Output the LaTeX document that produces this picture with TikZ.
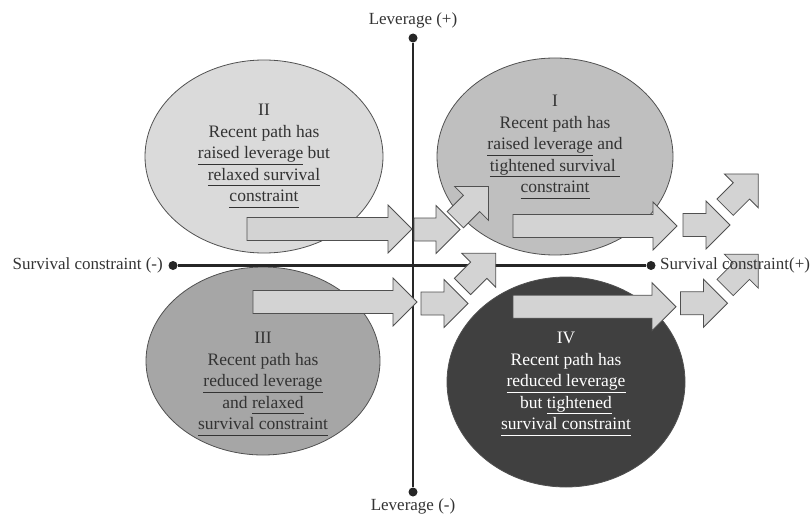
\documentclass[tikz,border=0pt]{standalone}
\usepackage{fontspec}
\setmainfont{Liberation Serif}
\usetikzlibrary{shapes.geometric}
\definecolor{quadone}{HTML}{BFBFBF}
\definecolor{quadtwo}{HTML}{DADADA}
\definecolor{quadthree}{HTML}{A6A6A6}
\definecolor{quadfour}{HTML}{404040}
\definecolor{quadline}{HTML}{505050}
\definecolor{arrowfill}{HTML}{D3D3D3}
\definecolor{arrowline}{HTML}{505050}
\definecolor{axisline}{HTML}{262626}
\definecolor{textgray}{HTML}{333333}
\newcommand{\ulfix}[1]{\underline{#1\vphantom{g}}}
\tikzset{
  quad/.style={ellipse, draw=quadline, line width=0.8pt, inner sep=0pt},
  quadtext/.style={align=center, text=textgray, font=\fontsize{17.5}{21.5}\selectfont},
  axis/.style={draw=axisline, line width=2.2pt},
  axisdot/.style={circle, fill=axisline, inner sep=0pt, minimum size=9pt},
  axislabel/.style={inner sep=0pt, text=textgray, font=\fontsize{17}{20}\selectfont},
  arrowbox/.style={fill=arrowfill, draw=arrowline, line width=0.8pt, line join=miter},
  pics/blockarrow/.style={code={
    \draw[arrowbox] (0,-11.5) -- ({#1-24},-11.5) -- ({#1-24},-24) -- (#1,0)
      -- ({#1-24},24) -- ({#1-24},11.5) -- (0,11.5) -- cycle;
  }}
}
\begin{document}
\begin{tikzpicture}[x=1pt,y=-1pt]
  \useasboundingbox (0,0) rectangle (811,516);
  \node[quad, fill=quadtwo, minimum width=238pt, minimum height=193pt] (q2) at (264,156.5) {};
  \node[quad, fill=quadone, minimum width=236pt, minimum height=197pt] (q1) at (555,156.5) {};
  \node[quad, fill=quadthree, minimum width=234pt, minimum height=188pt] (q3) at (263,361) {};
  \node[quad, fill=quadfour, minimum width=238pt, minimum height=210pt] (q4) at (566,382) {};
  \draw
    (413,38) node[axisdot] (levtop) {}
    (413,492) node[axisdot] (levbot) {}
    (173,265.5) node[axisdot] (survleft) {}
    (651,265.5) node[axisdot] (survright) {};
  \draw[axis] (levtop) -- (levbot);
  \draw[axis] (survleft) -- (survright);
  \foreach \x/\y/\a/\l in {247/229/0/165, 414/229.5/0/46, 455.3/219.7/45/47,
      513/226/0/164, 683/225/0/47, 725.1/207.2/45/47,
      253/302/0/164, 421/303.5/0/47, 462.5/286.5/45/47,
      513/306.7/0/163, 680.5/303.3/0/47, 725.1/287.5/45/47}
    \pic[rotate=\a] at (\x,\y) {blockarrow=\l};
  \node[quadtext] (t2) at (264,156) {II\\Recent path has\\\ulfix{raised leverage} but\\\ulfix{relaxed survival}\\\ulfix{constraint}};
  \node[quadtext] (t1) at (555,147) {I\\Recent path has\\\ulfix{raised leverage} and\\\ulfix{tightened survival\ }\\\ulfix{constraint}};
  \node[quadtext] (t3) at (263,384) {III\\Recent path has\\\ulfix{reduced leverage}\\and \ulfix{relaxed}\\\ulfix{survival constraint}};
  \node[quadtext, text=white] (t4) at (566,384) {IV\\Recent path has\\\ulfix{reduced leverage}\\but \ulfix{tightened}\\\ulfix{survival constraint}};
  \node[axislabel, above=10pt] (levplus) at (levtop) {Leverage (+)};
  \node[axislabel, below=6pt] (levminus) at (levbot) {Leverage (-)};
  \node[axislabel, anchor=east] (survminus) at (163,265.5) {Survival constraint (-)};
  \node[axislabel, anchor=west] (survplus) at (660,265.5) {Survival constraint(+)};
\end{tikzpicture}
\end{document}
